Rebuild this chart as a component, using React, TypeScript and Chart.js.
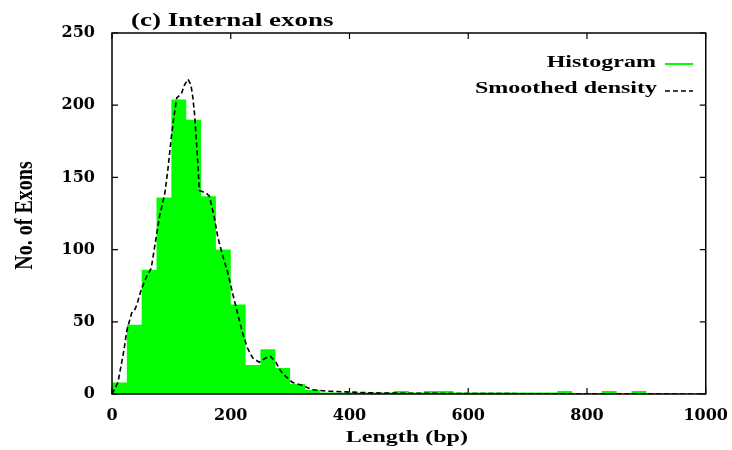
import { useEffect, useRef } from "react";
import { Chart, registerables } from "chart.js";

Chart.register(...registerables);

// ---- Data ----
const titleText = "(c) Internal exons";
const xAxisTitle = "Length (bp)";
const yAxisTitle = "No. of Exons";
const legendLabels = ["Histogram", "Smoothed density"];

const xTicks = [0, 200, 400, 600, 800, 1000];
const yTicks = [0, 50, 100, 150, 200, 250];

// histogram bins (bin start, width 25 bp) and their counts
const binStarts = [
  0, 25, 50, 75, 100, 125, 150, 175, 200, 225,
  250, 275, 300, 325, 350, 375, 400, 425, 450, 475,
  500, 525, 550, 575, 600, 625, 650, 675, 700, 725,
  750, 775, 800, 825, 850, 875, 900, 925, 950, 975,
];
const binWidth = 25;
const histCounts = [
  8, 48, 86, 136, 204, 190, 137, 100, 62, 20,
  31, 18, 7, 3, 1, 1, 1, 1, 1, 2,
  1, 2, 2, 1, 1, 1, 1, 1, 1, 1,
  2, 0, 0, 2, 0, 2, 0, 0, 0, 0,
];

// smoothed density curve (in counts per bin)
const densityX = [
  0, 10, 20, 25, 33, 38, 42, 49, 58, 66,
  75, 80, 89, 94, 100, 105, 109, 117, 122, 128,
  133, 136, 139, 142, 145, 147, 153, 159, 164, 172,
  178, 181, 187, 195, 203, 212, 220, 228, 237, 248,
  259, 267, 276, 284, 293, 304, 320, 337, 360, 393,
  420, 450, 500, 600, 700, 800, 900, 1000,
];
const densityY = [
  0, 8, 30, 44, 56, 58, 62, 72, 81, 87,
  110, 123, 139, 155, 178, 194, 205, 208, 214, 218,
  214, 206, 194, 176, 157, 141, 140, 139, 137, 123,
  109, 104, 95, 84, 70, 55, 42, 32, 25, 22,
  25, 26, 22, 16, 12, 8, 6, 3, 2, 1.5,
  1, 0.7, 0.5, 0.3, 0.2, 0.2, 0.1, 0,
];

const TICK_FAMILY = "'DejaVu Serif', 'Liberation Serif', serif";
const TEXT_FAMILY = "'Liberation Serif', 'DejaVu Serif', serif";
const GREEN = "#00ff00";

function drawText(
  ctx: CanvasRenderingContext2D,
  text: string,
  x: number,
  y: number,
  align: CanvasTextAlign,
  size: number,
  sx: number
) {
  ctx.save();
  ctx.font = `bold ${size}px ${TEXT_FAMILY}`;
  ctx.fillStyle = "#000";
  ctx.textAlign = align;
  ctx.textBaseline = "alphabetic";
  ctx.translate(x, y);
  ctx.scale(sx, 1);
  ctx.fillText(text, 0, 0);
  ctx.restore();
}

const framePlugin = {
  id: "framePlugin",
  beforeDatasetsDraw(chart: any) {
    const { ctx, chartArea } = chart;
    const { left, right, top, bottom } = chartArea;
    const xs = chart.scales.x;
    const ys = chart.scales.y;
    ctx.save();
    ctx.strokeStyle = "#000";
    ctx.lineWidth = 1.2;
    const tl = 6;
    ctx.beginPath();
    xTicks.forEach((v) => {
      const px = xs.getPixelForValue(v);
      ctx.moveTo(px, bottom);
      ctx.lineTo(px, bottom - tl);
      ctx.moveTo(px, top);
      ctx.lineTo(px, top + tl);
    });
    yTicks.forEach((v) => {
      const py = ys.getPixelForValue(v);
      ctx.moveTo(left, py);
      ctx.lineTo(left + tl, py);
      ctx.moveTo(right, py);
      ctx.lineTo(right - tl, py);
    });
    ctx.stroke();
    ctx.restore();
  },
  afterDatasetsDraw(chart: any) {
    const { ctx, chartArea } = chart;
    const { left, right, top, bottom } = chartArea;
    ctx.save();
    ctx.strokeStyle = "#000";
    ctx.lineWidth = 1.5;
    ctx.strokeRect(left, top, right - left, bottom - top);
    ctx.restore();
  },
  afterDraw(chart: any) {
    const { ctx, chartArea } = chart;
    // chart title
    drawText(ctx, titleText, 131, 26, "left", 18, 1.5);
    // x axis title
    drawText(ctx, xAxisTitle, (chartArea.left + chartArea.right) / 2 - 2, 442, "center", 16, 1.5);
    // y axis title (rotated)
    ctx.save();
    ctx.font = `bold 20px ${TEXT_FAMILY}`;
    ctx.fillStyle = "#000";
    ctx.textAlign = "center";
    ctx.textBaseline = "alphabetic";
    ctx.translate(32, (chartArea.top + chartArea.bottom) / 2 + 2);
    ctx.rotate(-Math.PI / 2);
    ctx.scale(1, 1.3);
    ctx.fillText(yAxisTitle, 0, 0);
    ctx.restore();

    // legend (text right-aligned, sample on the right)
    drawText(ctx, legendLabels[0], 656, 67, "right", 16, 1.5);
    drawText(ctx, legendLabels[1], 657, 93, "right", 16, 1.5);
    ctx.save();
    ctx.lineWidth = 2;
    ctx.strokeStyle = GREEN;
    ctx.beginPath();
    ctx.moveTo(665, 64);
    ctx.lineTo(693, 64);
    ctx.stroke();
    ctx.strokeStyle = "#000";
    ctx.lineWidth = 1.6;
    ctx.setLineDash([5, 3]);
    ctx.beginPath();
    ctx.moveTo(665, 91);
    ctx.lineTo(693, 91);
    ctx.stroke();
    ctx.restore();
  },
};

export default function App() {
  const canvasRef = useRef<HTMLCanvasElement | null>(null);

  useEffect(() => {
    if (!canvasRef.current) return;
    const histPoints = binStarts.map((x, i) => ({ x, y: histCounts[i] }));
    histPoints.push({ x: binStarts[binStarts.length - 1] + binWidth, y: 0 });
    const densityPoints = densityX.map((x, i) => ({ x, y: densityY[i] }));
    const tickFont = { family: TICK_FAMILY, size: 16, weight: "bold" as const };

    const chart = new Chart(canvasRef.current, {
      type: "line",
      data: {
        datasets: [
          {
            label: legendLabels[1],
            data: densityPoints,
            borderColor: "#000",
            borderWidth: 1.6,
            borderDash: [5, 3],
            pointRadius: 0,
            tension: 0,
            fill: false,
            order: 0,
          },
          {
            label: legendLabels[0],
            data: histPoints,
            borderColor: GREEN,
            backgroundColor: GREEN,
            borderWidth: 0,
            pointRadius: 0,
            stepped: "before",
            fill: "origin",
            order: 1,
          },
        ],
      },
      options: {
        animation: false,
        responsive: false,
        devicePixelRatio: 1,
        layout: { padding: { top: 33, right: 23, left: 0, bottom: 0 } },
        plugins: {
          legend: { display: false },
          tooltip: { enabled: false },
          title: { display: false },
        },
        scales: {
          x: {
            type: "linear",
            min: 0,
            max: 1000,
            afterBuildTicks: (scale: any) => {
              scale.ticks = xTicks.map((v) => ({ value: v }));
            },
            ticks: {
              color: "#000",
              font: tickFont,
              padding: 4,
              maxRotation: 0,
              autoSkip: false,
              callback: (v: any) => String(v),
            },
            grid: { display: false },
            border: { display: false },
            title: { display: false },
            afterFit: (scale: any) => {
              scale.height = 56;
            },
          },
          y: {
            type: "linear",
            min: 0,
            max: 250,
            afterBuildTicks: (scale: any) => {
              scale.ticks = yTicks.map((v) => ({ value: v }));
            },
            ticks: {
              color: "#000",
              font: tickFont,
              padding: 9,
              autoSkip: false,
              callback: (v: any) => String(v),
            },
            grid: { display: false },
            border: { display: false },
            title: { display: false },
            afterFit: (scale: any) => {
              scale.width = 112;
            },
          },
        },
      },
      plugins: [framePlugin],
    });
    return () => chart.destroy();
  }, []);

  return (
    <div style={{ position: "fixed", left: 0, top: 0, width: 732, height: 450, background: "#fff" }}>
      <canvas ref={canvasRef} width={732} height={450} style={{ display: "block" }} />
    </div>
  );
}
